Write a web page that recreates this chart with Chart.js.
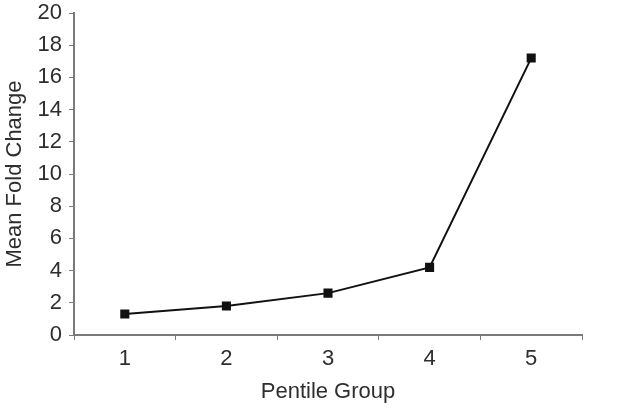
<!DOCTYPE html>
<html>
  <head>
    <meta charset="UTF-8">
    <title>Mean Fold Change</title>
    <script src="https://cdn.jsdelivr.net/npm/chart.js"></script>
    <style>
      html, body { margin: 0; padding: 0; background: #fff; }
    </style>
  </head>
  <body>
    <div style="width: 641px; height: 409px;">
      <canvas id="grafico"></canvas>
    </div>

    <script>
      const grupos = ["1", "2", "3", "4", "5"]
      const mediaFold = [1.3, 1.8, 2.6, 4.2, 17.2]
      const yMin = 0, yMax = 20, yPasso = 2

      const fonte = { family: "'Liberation Sans', Arial, sans-serif", size: 22 }
      const cinza = '#7a7a7a'
      const texto = '#2e2e2e'

      new Chart(document.getElementById('grafico'), {
        type: 'line',
        data: {
          labels: grupos,
          datasets: [{
            data: mediaFold,
            borderColor: '#111',
            backgroundColor: '#111',
            borderWidth: 2,
            pointStyle: 'rect',
            pointRadius: 5,
            pointHoverRadius: 5,
            tension: 0
          }]
        },
        options: {
          responsive: true,
          maintainAspectRatio: false,
          animation: false,
          layout: { padding: { top: 13, right: 59, left: 0, bottom: 0 } },
          plugins: { legend: { display: false }, tooltip: { enabled: false } },
          scales: {
            x: {
              offset: true,
              grid: { drawOnChartArea: false, color: cinza, tickLength: 5, offset: true },
              border: { color: cinza, width: 2 },
              ticks: { color: texto, font: fonte, padding: 6 },
              title: { display: true, text: 'Pentile Group', color: texto, font: fonte, padding: { top: 2, bottom: 4 } },
              afterFit: s => { s.height = 74; s.paddingLeft = 0; s.paddingRight = 0 }
            },
            y: {
              min: yMin,
              max: yMax,
              grid: { drawOnChartArea: false, color: cinza, tickLength: 5 },
              border: { color: cinza, width: 2 },
              ticks: { stepSize: yPasso, color: texto, font: fonte, padding: 7 },
              title: { display: true, text: 'Mean Fold Change', color: texto, font: fonte, padding: { top: 2, bottom: 2 } },
              afterFit: s => { s.width = 74; s.paddingTop = 0; s.paddingBottom = 0 }
            }
          }
        }
      })
    </script>
  </body>
</html>
